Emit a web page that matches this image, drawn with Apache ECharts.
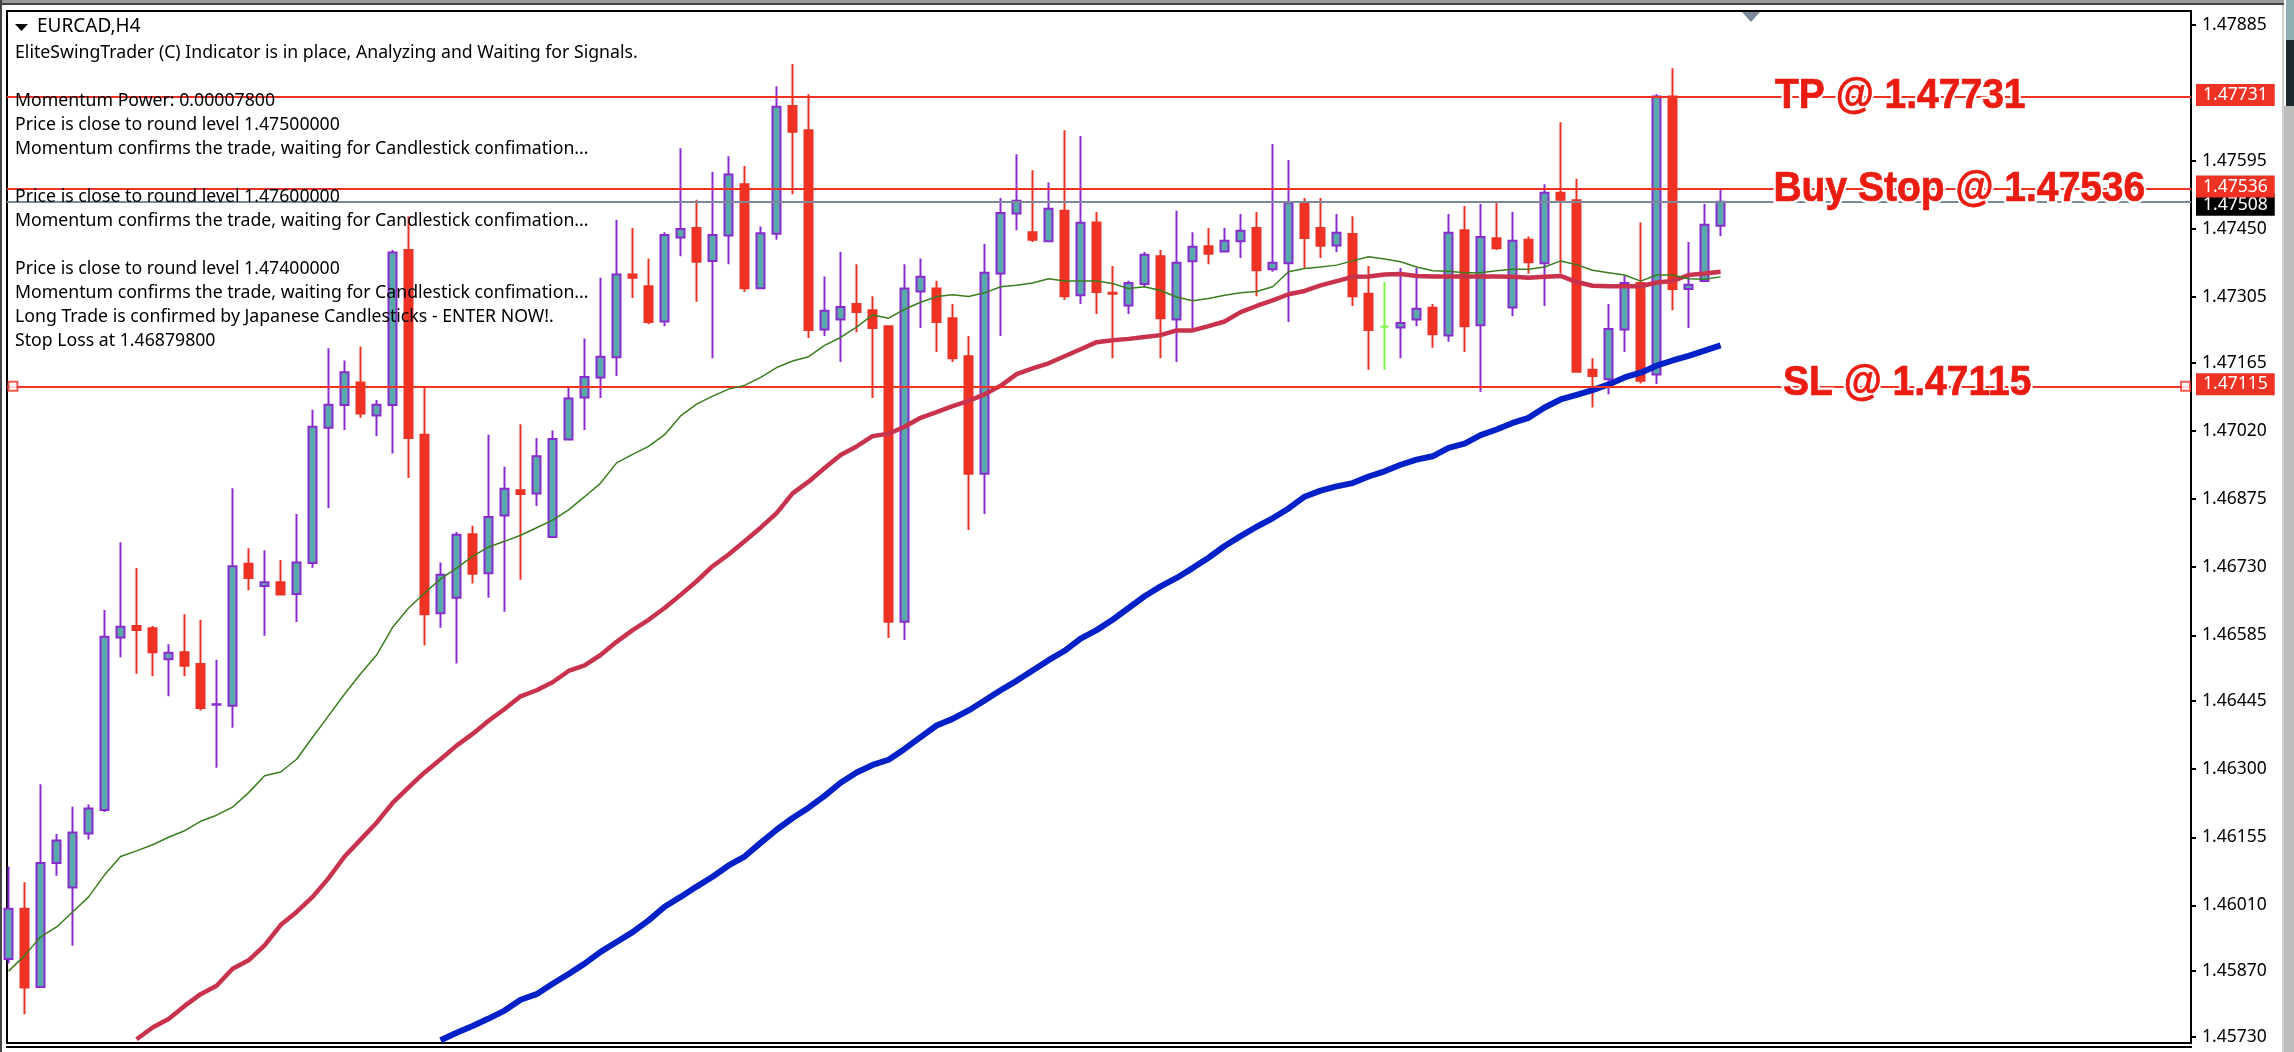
<!DOCTYPE html>
<html><head><meta charset="utf-8">
<style>html,body{margin:0;padding:0;background:#fff}#c{width:2294px;height:1052px}</style>
<script src="https://cdn.jsdelivr.net/npm/echarts@6/dist/echarts.min.js"></script>
</head><body><div id="c"></div>
<script>
const opens=[1.45896,1.46003,1.45836,1.46100,1.46048,1.46163,1.46213,1.46580,1.46605,1.46600,1.46534,1.46549,1.46524,1.46437,1.46435,1.46737,1.46690,1.46698,1.46673,1.46739,1.47027,1.47075,1.47123,1.47053,1.47075,1.47405,1.47012,1.46632,1.46665,1.46800,1.46717,1.46840,1.46894,1.46887,1.46794,1.47002,1.47091,1.47134,1.47177,1.47353,1.47328,1.47253,1.47432,1.47452,1.47382,1.47436,1.47545,1.47324,1.47440,1.47712,1.47660,1.47236,1.47257,1.47290,1.47277,1.47243,1.46614,1.47317,1.47323,1.47260,1.47179,1.46929,1.47355,1.47483,1.47443,1.47424,1.47489,1.47309,1.47464,1.47314,1.47287,1.47333,1.47392,1.47257,1.47381,1.47413,1.47402,1.47424,1.47452,1.47364,1.47377,1.47507,1.47452,1.47415,1.47439,1.47312,1.47242,1.47240,1.47257,1.47282,1.47223,1.47447,1.47245,1.47430,1.47283,1.47427,1.47377,1.47527,1.47511,1.47150,1.47130,1.47236,1.47335,1.47140,1.47732,1.47322,1.47339,1.47457];
const highs=[1.46093,1.46059,1.46268,1.46162,1.46220,1.46225,1.46639,1.46783,1.46728,1.46605,1.46566,1.46630,1.46618,1.46533,1.46898,1.46770,1.46766,1.46745,1.46843,1.47065,1.47196,1.47170,1.47200,1.47086,1.47405,1.47477,1.47112,1.46740,1.46805,1.46818,1.47012,1.46944,1.47034,1.47005,1.47021,1.47112,1.47217,1.47346,1.47469,1.47452,1.47387,1.47443,1.47622,1.47512,1.47571,1.47605,1.47584,1.47455,1.47754,1.47801,1.47737,1.47349,1.47401,1.47375,1.47307,1.47243,1.47375,1.47387,1.47340,1.47290,1.47222,1.47418,1.47516,1.47609,1.47575,1.47549,1.47660,1.47648,1.47486,1.47371,1.47340,1.47401,1.47405,1.47489,1.47443,1.47452,1.47452,1.47482,1.47486,1.47631,1.47597,1.47516,1.47516,1.47482,1.47477,1.47371,1.47337,1.47367,1.47367,1.47290,1.47482,1.47499,1.47503,1.47507,1.47486,1.47434,1.47545,1.47677,1.47557,1.47175,1.47290,1.47350,1.47464,1.47737,1.47792,1.47422,1.47503,1.47533];
const lows=[1.45886,1.45778,1.45836,1.46073,1.45924,1.46150,1.46209,1.46538,1.46503,1.46498,1.46455,1.46498,1.46425,1.46303,1.46388,1.46681,1.46584,1.46672,1.46613,1.46729,1.46856,1.47022,1.47048,1.47009,1.46972,1.46920,1.46563,1.46601,1.46525,1.46695,1.46665,1.46635,1.46703,1.46860,1.46794,1.47001,1.47022,1.47090,1.47137,1.47303,1.47247,1.47243,1.47392,1.47295,1.47175,1.47375,1.47316,1.47324,1.47427,1.47524,1.47218,1.47222,1.47167,1.47230,1.47090,1.46579,1.46575,1.47239,1.47188,1.47167,1.46809,1.46843,1.47222,1.47447,1.47422,1.47424,1.47299,1.47290,1.47269,1.47175,1.47269,1.47326,1.47175,1.47167,1.47235,1.47375,1.47401,1.47388,1.47307,1.47359,1.47252,1.47366,1.47388,1.47401,1.47286,1.47150,1.47150,1.47175,1.47243,1.47197,1.47210,1.47188,1.47103,1.47405,1.47264,1.47355,1.47286,1.47355,1.47146,1.47070,1.47098,1.47188,1.47121,1.47120,1.47277,1.47239,1.47339,1.47435];
const closes=[1.46003,1.45835,1.46100,1.46148,1.46165,1.46216,1.46582,1.46603,1.46596,1.46549,1.46548,1.46520,1.46430,1.46438,1.46732,1.46707,1.46698,1.46672,1.46740,1.47029,1.47076,1.47145,1.47057,1.47076,1.47400,1.47005,1.46630,1.46714,1.46799,1.46716,1.46837,1.46897,1.46886,1.46966,1.47003,1.47089,1.47135,1.47178,1.47353,1.47346,1.47252,1.47437,1.47450,1.47380,1.47437,1.47566,1.47324,1.47441,1.47710,1.47657,1.47235,1.47276,1.47284,1.47273,1.47239,1.46614,1.47323,1.47348,1.47252,1.47175,1.46929,1.47357,1.47484,1.47510,1.47427,1.47493,1.47307,1.47463,1.47316,1.47312,1.47335,1.47395,1.47260,1.47378,1.47412,1.47397,1.47425,1.47446,1.47362,1.47378,1.47506,1.47431,1.47414,1.47442,1.47307,1.47235,1.47242,1.47250,1.47280,1.47226,1.47442,1.47243,1.47433,1.47409,1.47425,1.47379,1.47527,1.47512,1.47146,1.47137,1.47237,1.47335,1.47127,1.47732,1.47322,1.47331,1.47459,1.47508];
const greenMA=[1.45870,1.45903,1.45943,1.45964,1.45996,1.46028,1.46075,1.46114,1.46126,1.46139,1.46155,1.46169,1.46189,1.46202,1.46219,1.46250,1.46286,1.46294,1.46321,1.46368,1.46414,1.46460,1.46503,1.46543,1.46602,1.46643,1.46675,1.46705,1.46728,1.46753,1.46773,1.46785,1.46798,1.46814,1.46830,1.46852,1.46880,1.46909,1.46952,1.46970,1.46987,1.47012,1.47052,1.47077,1.47094,1.47109,1.47117,1.47134,1.47155,1.47169,1.47178,1.47202,1.47219,1.47241,1.47267,1.47260,1.47279,1.47294,1.47306,1.47310,1.47306,1.47314,1.47327,1.47330,1.47335,1.47344,1.47339,1.47339,1.47339,1.47334,1.47323,1.47327,1.47319,1.47305,1.47297,1.47302,1.47309,1.47314,1.47317,1.47327,1.47359,1.47366,1.47369,1.47373,1.47382,1.47391,1.47386,1.47380,1.47369,1.47361,1.47360,1.47357,1.47357,1.47361,1.47364,1.47364,1.47369,1.47382,1.47374,1.47362,1.47357,1.47352,1.47339,1.47352,1.47352,1.47344,1.47343,1.47348];
const redMAStart=8;
const redMA=[1.45725,1.45750,1.45768,1.45796,1.45821,1.45839,1.45875,1.45893,1.45925,1.45968,1.45996,1.46028,1.46068,1.46114,1.46150,1.46186,1.46228,1.46261,1.46293,1.46321,1.46350,1.46375,1.46403,1.46428,1.46455,1.46468,1.46485,1.46509,1.46521,1.46543,1.46571,1.46596,1.46618,1.46643,1.46671,1.46700,1.46732,1.46757,1.46785,1.46814,1.46845,1.46887,1.46912,1.46941,1.46969,1.46987,1.47009,1.47014,1.47029,1.47048,1.47060,1.47073,1.47084,1.47098,1.47116,1.47141,1.47153,1.47164,1.47179,1.47194,1.47209,1.47213,1.47216,1.47220,1.47224,1.47234,1.47234,1.47243,1.47253,1.47273,1.47286,1.47298,1.47311,1.47318,1.47330,1.47339,1.47348,1.47349,1.47353,1.47354,1.47350,1.47349,1.47349,1.47349,1.47349,1.47349,1.47348,1.47346,1.47348,1.47350,1.47337,1.47329,1.47328,1.47328,1.47328,1.47336,1.47339,1.47352,1.47355,1.47359];
const blueMAStart=27;
const blueMA=[1.45723,1.45739,1.45753,1.45769,1.45786,1.45809,1.45821,1.45843,1.45864,1.45886,1.45911,1.45932,1.45953,1.45978,1.46007,1.46028,1.46050,1.46071,1.46095,1.46114,1.46143,1.46171,1.46196,1.46218,1.46243,1.46271,1.46293,1.46309,1.46320,1.46343,1.46368,1.46393,1.46407,1.46425,1.46446,1.46468,1.46488,1.46510,1.46532,1.46552,1.46578,1.46596,1.46618,1.46643,1.46668,1.46689,1.46707,1.46728,1.46750,1.46775,1.46796,1.46816,1.46834,1.46855,1.46880,1.46893,1.46902,1.46909,1.46923,1.46934,1.46948,1.46959,1.46966,1.46984,1.46993,1.47011,1.47023,1.47037,1.47048,1.47070,1.47087,1.47097,1.47107,1.47119,1.47134,1.47144,1.47159,1.47170,1.47180,1.47191,1.47202];
const priceTicks=[1.47885,1.47595,1.47450,1.47305,1.47165,1.47020,1.46875,1.46730,1.46585,1.46445,1.46300,1.46155,1.46010,1.45870,1.45730];
const tpLevel=1.47731, buyLevel=1.47536, slLevel=1.47115, lastPrice=1.47508;
const dojiGreenIndex=86;
const infoTitle='EURCAD,H4';
const infoLines=[
 'EliteSwingTrader (C) Indicator is in place, Analyzing and Waiting for Signals.',
 'Momentum Power: 0.00007800',
 'Price is close to round level 1.47500000',
 'Momentum confirms the trade, waiting for Candlestick confimation...',
 'Price is close to round level 1.47600000',
 'Momentum confirms the trade, waiting for Candlestick confimation...',
 'Price is close to round level 1.47400000',
 'Momentum confirms the trade, waiting for Candlestick confimation...',
 'Long Trade is confirmed by Japanese Candlesticks - ENTER NOW!.',
 'Stop Loss at 1.46879800'];
const infoY=[53,101,125,149,197,221,269,293,317,341];
const tradeTexts=['TP @ 1.47731','Buy Stop @ 1.47536','SL @ 1.47115'];
const tradeLevels=[tpLevel,buyLevel,slLevel];

const RED='#EE3224', PURPLE='#8A2BD0', TEAL='#58AAAA', LIME='#7CF24A', GREY='#7B8A99';
const UI='"Noto Sans",sans-serif';
const tradeX=[110.4,110.3,110.9], tradeDy=[0,1,-3];
const candleData=opens.map((o,i)=>{
  const v=[i,o,closes[i],lows[i],highs[i]];
  if(i===dojiGreenIndex) return {value:v,itemStyle:{color:LIME,color0:LIME,borderColor:LIME,borderColor0:LIME,borderColorDoji:LIME}};
  return v;
});
const box=(bg)=>({show:true,position:'end',distance:5,color:'#fff',fontFamily:UI,fontSize:17.5,backgroundColor:bg,
  align:'left',padding:[0,7],lineHeight:22,formatter:p=>p.value.toFixed(5)});
const rect=(x,y,w,h,c)=>({type:'rect',silent:true,shape:{x,y,width:w,height:h},style:{fill:c},z:1});
const tradeFont='bold 39px "Liberation Sans",Arial,sans-serif';
const renderTrade=(params,api)=>{
  const i=params.dataIndex, p=api.coord([api.value(0),api.value(1)]);
  const t=(fill,lw,z2)=>({type:'text',x:p[0],y:p[1]+tradeDy[i],scaleY:1.07,z2,silent:true,
    style:{text:tradeTexts[i],font:tradeFont,fill,stroke:fill,lineWidth:lw,verticalAlign:'middle',align:'left'}});
  return {type:'group',children:[t('#fff',5,1),t('#EA1C12',0.7,2)]};
};

const chart=echarts.init(document.getElementById('c'),null,{renderer:'canvas'});
chart.setOption({
 animation:false,backgroundColor:'#fff',
 grid:{left:7,top:11,width:2184,height:1032,show:true,borderColor:'#000',borderWidth:2,backgroundColor:'#fff'},
 xAxis:{type:'value',min:-0.1,max:136.4,show:false},
 yAxis:{type:'value',position:'right',min:1.45717,max:1.47914,splitLine:{show:false},
   axisLine:{show:true,onZero:false,lineStyle:{color:'#000',width:2}},
   axisTick:{show:true,length:5,lineStyle:{color:'#000',width:2},customValues:priceTicks},
   axisLabel:{margin:11,color:'#000',fontFamily:UI,fontSize:17.5,customValues:priceTicks,formatter:v=>v.toFixed(5)}},
 series:[
  {type:'candlestick',name:'EURCAD',barWidth:9,z:3,encode:{x:0,y:[1,2,3,4]},
   itemStyle:{color:TEAL,color0:RED,borderColor:PURPLE,borderColor0:RED,borderColorDoji:PURPLE,borderWidth:2},
   data:candleData},
  {type:'line',name:'MA slow',z:4,showSymbol:false,clip:true,lineStyle:{color:'#0020C8',width:6},data:blueMA.map((v,i)=>[i+blueMAStart,v])},
  {type:'line',name:'MA mid',z:4,showSymbol:false,clip:true,lineStyle:{color:'#C9324C',width:4.5},data:redMA.map((v,i)=>[i+redMAStart,v])},
  {type:'line',name:'MA fast',z:5,showSymbol:false,lineStyle:{color:'#3A7D1E',width:1.5},data:greenMA.map((v,i)=>[i,v])},
  {type:'line',name:'last',z:6,data:[],markLine:{silent:true,symbol:'none',animation:false,precision:5,
     lineStyle:{color:GREY,width:2,type:'solid'},label:Object.assign(box('#000'),{offset:[0,3]}),data:[{yAxis:lastPrice}]}},
  {type:'line',name:'levels',z:7,data:[],markLine:{silent:true,symbol:'none',animation:false,precision:5,
     lineStyle:{color:RED,width:2,type:'solid'},label:Object.assign(box(RED),{offset:[0,-2]}),
     data:[{yAxis:tpLevel},{yAxis:buyLevel},{yAxis:slLevel}]}},
  {type:'scatter',name:'SL anchors',z:8,symbol:'rect',symbolSize:9,clip:false,
   itemStyle:{color:'#fff',borderColor:RED,borderWidth:2},data:[[0.27,slLevel],[136.06,slLevel]]},
  {type:'custom',name:'trade labels',z:10,clip:false,silent:true,encode:{x:0,y:1},renderItem:renderTrade,
   data:tradeLevels.map((v,i)=>[tradeX[i],v])}
 ],
 graphic:[
  rect(0,0,2284,3,'#9a9a9a'),rect(0,3,2284,2,'#444'),
  rect(0,0,2,1052,'#444'),rect(2282,5,2,1047,'#cfcfcf'),
  rect(2286,0,8,40,'#8FB0B5'),rect(2286,40,8,66,'#1F2A2E'),rect(2284,106,10,946,'#bdbdbd'),
  rect(6,1046,2186,2,'#000'),
  {type:'polygon',silent:true,z:20,shape:{points:[[1742,12],[1760,12],[1751,22]]},style:{fill:GREY}},
  {type:'polygon',silent:true,z:20,shape:{points:[[15,24],[28,24],[21.5,31]]},style:{fill:'#000'}},
  {type:'text',silent:true,z:20,x:37,y:27,style:{text:infoTitle,font:'19px '+UI,fill:'#000',verticalAlign:'middle'}},
  ...infoLines.map((t,i)=>({type:'text',silent:true,z:20,x:15,y:infoY[i],style:{text:t,font:'17.7px '+UI,fill:'#000',verticalAlign:'middle'}}))
 ]
});
</script></body></html>
